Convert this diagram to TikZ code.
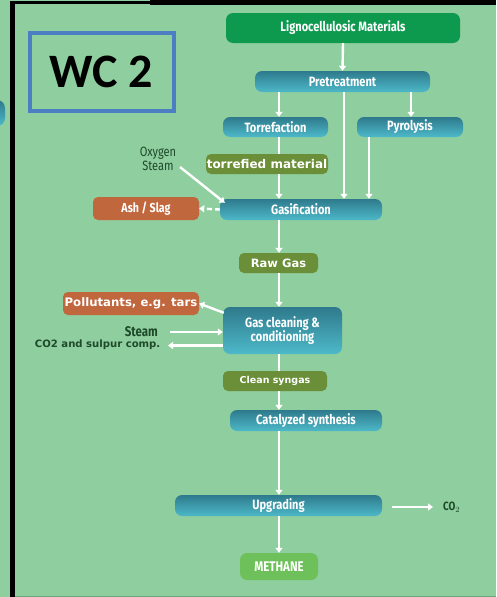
\documentclass[tikz,border=0pt]{standalone}
\usepackage{fontspec}
\setmainfont{Fira Sans}
\newfontfamily\cond[FakeStretch=0.82]{Fira Sans}
\newfontfamily\wide{DejaVu Sans}
\newfontfamily\wcfont{Carlito}
\usetikzlibrary{arrows.meta,calc}
\definecolor{bg}{HTML}{8FCE9E}
\definecolor{darkg}{HTML}{0E9A4E}
\definecolor{tealtop}{HTML}{2E7A8C}
\definecolor{tealbot}{HTML}{4DB9C9}
\definecolor{olive}{HTML}{6B8E38}
\definecolor{rust}{HTML}{C1673D}
\definecolor{meth}{HTML}{6DC05A}
\definecolor{txtg}{HTML}{1E4A2A}
\definecolor{wcblue}{HTML}{4B7FC1}
\tikzset{
  box/.style={rounded corners=7pt, inner sep=0pt, text=white, align=center},
  tealbox/.style={box, top color=tealtop, bottom color=tealbot, font=\cond\bfseries\fontsize{13.5}{14}\selectfont},
  olivebox/.style={box, fill=olive, rounded corners=5pt, font=\wide\bfseries\fontsize{12}{13}\selectfont},
  rustbox/.style={box, fill=rust, rounded corners=5pt},
  arr/.style={draw=white, line width=2.4pt, -{Triangle[length=5pt,width=7pt]}},
  ln/.style={draw=white, line width=2.4pt},
  lbl/.style={text=txtg, inner sep=0pt}
}
\begin{document}
\begin{tikzpicture}[x=1pt,y=-1pt]
\useasboundingbox (0,0) rectangle (496,597);
\fill[bg] (0,0) rectangle (496,597);
% left cut fragment
\begin{scope}
\clip (0,0) rectangle (496,597);
\shade[top color=tealtop, bottom color=tealbot, rounded corners=8pt] (-25,100) rectangle (5,126);
\end{scope}
% black frame
\fill[black] (10,1) rectangle (150,3.5);
\fill[black] (150,0) rectangle (496,4.5);
\fill[black] (10,1) rectangle (14.5,597);
\draw[color=bg!80!black, line width=0.8pt] (14.5,596.5) -- (496,596.5);

% WC 2 box
\node[draw=wcblue, line width=4pt, minimum width=144pt, minimum height=78pt, inner sep=0pt,
  font=\wcfont\bfseries\fontsize{48}{48}\selectfont] (wc) at (101.5,71.5) {WC 2};

% nodes
\node[box, fill=darkg, minimum width=234pt, minimum height=30pt, font=\cond\bfseries\fontsize{13.5}{14}\selectfont] (ligno) at (343,28) {Lignocellulosic Materials};
\node[tealbox, minimum width=175pt, minimum height=21pt] (pre) at (342.5,81.5) {Pretreatment};
\node[tealbox, minimum width=105pt, minimum height=20pt] (torr) at (275.5,127) {Torrefaction};
\node[tealbox, minimum width=106pt, minimum height=20pt] (pyro) at (410,127) {Pyrolysis};
\node[olivebox, minimum width=122pt, minimum height=20pt] (tmat) at (267,164) {torrefied material};
\node[tealbox, minimum width=162pt, minimum height=21pt] (gas) at (301,209.5) {Gasification};
\node[rustbox, minimum width=106pt, minimum height=23pt, font=\cond\bfseries\fontsize{13}{14}\selectfont] (ash) at (146,208.5) {Ash / Slag};
\node[olivebox, minimum width=79pt, minimum height=20pt, font=\wide\bfseries\fontsize{11.5}{13}\selectfont] (raw) at (278.5,263) {Raw Gas};
\node[rustbox, minimum width=136pt, minimum height=23pt, font=\wide\bfseries\fontsize{11.7}{12}\selectfont] (poll) at (131,303.5) {Pollutants, e.g. tars};
\node[tealbox, minimum width=119pt, minimum height=47pt, font=\cond\bfseries\fontsize{13.5}{13.5}\selectfont] (clean) at (282.5,330.5) {Gas cleaning \&\\conditioning};
\node[olivebox, minimum width=104pt, minimum height=20pt, font=\wide\bfseries\fontsize{9.5}{10}\selectfont] (syn) at (275,381) {Clean syngas};
\node[tealbox, minimum width=152pt, minimum height=21pt] (cat) at (306,420.5) {Catalyzed synthesis};
\node[tealbox, minimum width=207pt, minimum height=21pt] (upg) at (278.5,505.5) {Upgrading};
\node[box, fill=meth, minimum width=78pt, minimum height=27pt, font=\cond\bfseries\fontsize{14}{14}\selectfont] (meth) at (279,566.5) {METHANE};

% labels
\node[lbl, align=center, font=\cond\fontsize{13.5}{14}\selectfont] (oxy) at (158,159) {Oxygen\\Steam};
\node[lbl, anchor=east, font=\cond\bfseries\fontsize{14}{14}\selectfont] (steam) at (158,332) {Steam};
\node[lbl, anchor=east, font=\wide\bfseries\fontsize{10.1}{10}\selectfont] (co2s) at (160.5,345) {CO2 and sulpur comp.};
\node[lbl, anchor=west, font=\cond\bfseries\fontsize{12}{12}\selectfont] (co2) at (443,507) {CO$_2$};

\coordinate (steamend) at (170,332);
\coordinate (co2send) at (168,345.5);
\coordinate (oxyend) at (180,167);
\coordinate (co2end) at (392,507);

% connectors
\draw[arr] (ligno.south) -- (pre.north);
\draw[arr] ([xshift=-63.5pt]pre.south) -- ([xshift=3.5pt]torr.north);
\draw[arr] ([xshift=68.5pt]pre.south) -- ([xshift=1pt]pyro.north);
\draw[arr] ([xshift=1.5pt]pre.south) -- ([xshift=43pt]gas.north);
\draw[ln] ([xshift=3.5pt]torr.south) -- ([xshift=12pt]tmat.north);
\draw[arr] ([xshift=12pt]tmat.south) -- ([xshift=-22pt]gas.north);
\draw[arr] ([xshift=-41pt]pyro.south) -- ([xshift=68pt]gas.north);
\draw[arr] (oxyend) -- ([xshift=5pt,yshift=-4pt]gas.north west);
\draw[arr, dashed, dash pattern=on 5pt off 3pt] (gas.west) -- (ash.east);
\draw[arr] ([xshift=-22pt]gas.south) -- ([xshift=0.5pt]raw.north);
\draw[arr] ([xshift=0.5pt]raw.south) -- ([xshift=-3.5pt]clean.north);
\draw[arr] ([xshift=1pt,yshift=-6pt]clean.north west) -- (poll.east);
\draw[arr] (steamend) -- (clean.west |- steamend);
\draw[arr] (clean.west |- co2send) -- (co2send);
\draw[ln] ([xshift=-3.5pt]clean.south) -- ([xshift=4pt]syn.north);
\draw[arr] ([xshift=4pt]syn.south) -- ([xshift=-27pt]cat.north);
\draw[arr] ([xshift=-27pt]cat.south) -- ([xshift=0.5pt]upg.north);
\draw[arr] ([xshift=0.5pt]upg.south) -- (meth.north);
\draw[arr] (co2end) -- ([xshift=-10pt]co2.west);
\end{tikzpicture}
\end{document}
